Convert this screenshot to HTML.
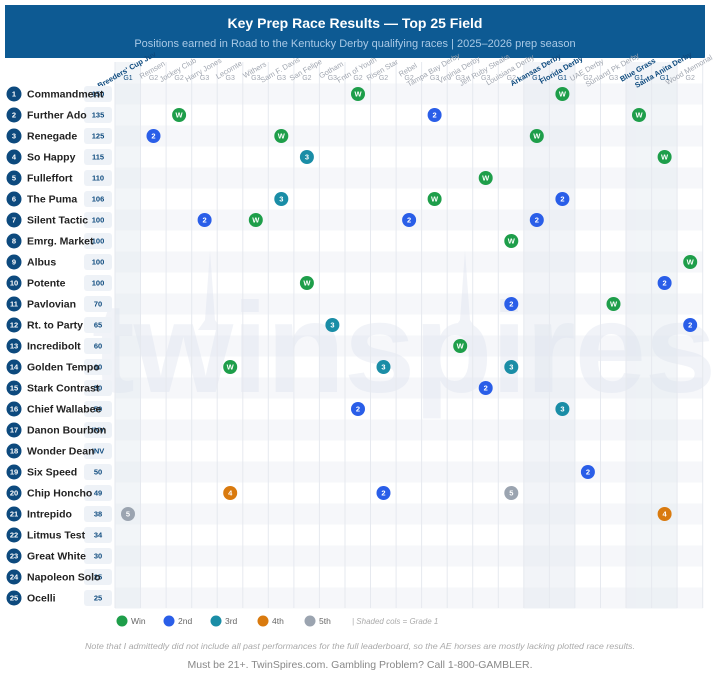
<!DOCTYPE html>
<html><head><meta charset="utf-8"><style>
body{margin:0;background:#fff;width:720px;height:677px;overflow:hidden;font-family:"Liberation Sans",sans-serif}
svg text{font-family:"Liberation Sans",sans-serif}
</style></head><body>
<svg width="720" height="677" viewBox="0 0 720 677" xmlns="http://www.w3.org/2000/svg">
<rect x="5" y="5" width="700" height="53" fill="#0d5a93"/>
<text x="355" y="28" text-anchor="middle" font-size="14" font-weight="bold" fill="#fff">Key Prep Race Results — Top 25 Field</text>
<text x="355" y="47" text-anchor="middle" font-size="11" fill="#a9c9e6">Positions earned in Road to the Kentucky Derby qualifying races | 2025–2026 prep season</text>
<!-- row stripes -->
<g fill="#f6f7fa">
<rect x="115" y="83.5" width="588" height="21"/><rect x="115" y="125.5" width="588" height="21"/><rect x="115" y="167.5" width="588" height="21"/><rect x="115" y="209.5" width="588" height="21"/><rect x="115" y="251.5" width="588" height="21"/><rect x="115" y="293.5" width="588" height="21"/><rect x="115" y="335.5" width="588" height="21"/><rect x="115" y="377.5" width="588" height="21"/><rect x="115" y="419.5" width="588" height="21"/><rect x="115" y="461.5" width="588" height="21"/><rect x="115" y="503.5" width="588" height="21"/><rect x="115" y="545.5" width="588" height="21"/><rect x="115" y="587.5" width="588" height="21"/>
</g>
<g fill="#e3e8f0" opacity="0.45">
<rect x="115" y="62" width="25.5" height="546.5"/><rect x="524" y="62" width="51" height="546.5"/><rect x="626.2" y="62" width="51" height="546.5"/>
</g>
<!-- watermark -->
<g fill="#dde3ee" opacity="0.4">
<text x="92" y="392" font-size="128" font-weight="bold" letter-spacing="-1">twinspires</text>
<polygon points="205,320 210,250 215,320 222,330 198,330"/>
<polygon points="460,320 465,250 470,320 477,330 453,330"/>
</g>
<!-- gridlines -->
<g stroke="#e6e9ef" stroke-width="1">
<line x1="115" y1="62" x2="115" y2="608"/><line x1="140.5" y1="62" x2="140.5" y2="608"/><line x1="166.1" y1="62" x2="166.1" y2="608"/><line x1="191.7" y1="62" x2="191.7" y2="608"/><line x1="217.2" y1="62" x2="217.2" y2="608"/><line x1="242.8" y1="62" x2="242.8" y2="608"/><line x1="268.3" y1="62" x2="268.3" y2="608"/><line x1="293.9" y1="62" x2="293.9" y2="608"/><line x1="319.4" y1="62" x2="319.4" y2="608"/><line x1="345" y1="62" x2="345" y2="608"/><line x1="370.5" y1="62" x2="370.5" y2="608"/><line x1="396.1" y1="62" x2="396.1" y2="608"/><line x1="421.6" y1="62" x2="421.6" y2="608"/><line x1="447.2" y1="62" x2="447.2" y2="608"/><line x1="472.7" y1="62" x2="472.7" y2="608"/><line x1="498.3" y1="62" x2="498.3" y2="608"/><line x1="523.8" y1="62" x2="523.8" y2="608"/><line x1="549.4" y1="62" x2="549.4" y2="608"/><line x1="574.9" y1="62" x2="574.9" y2="608"/><line x1="600.5" y1="62" x2="600.5" y2="608"/><line x1="626" y1="62" x2="626" y2="608"/><line x1="651.6" y1="62" x2="651.6" y2="608"/><line x1="677.1" y1="62" x2="677.1" y2="608"/><line x1="702.7" y1="62" x2="702.7" y2="608"/>
</g>
<!-- column labels -->
<g font-size="7.5" fill="#a0a6b0" text-anchor="middle">
<text transform="translate(128,72) rotate(-30)" fill="#0d4a7e" font-weight="bold">Breeders' Cup Juv</text>
<text transform="translate(153.5,72) rotate(-30)">Remsen</text>
<text transform="translate(179.1,72) rotate(-30)">Jockey Club</text>
<text transform="translate(204.6,72) rotate(-30)">Harry Jones</text>
<text transform="translate(230.2,72) rotate(-30)">Lecomte</text>
<text transform="translate(255.8,72) rotate(-30)">Withers</text>
<text transform="translate(281.3,72) rotate(-30)">Sam F. Davis</text>
<text transform="translate(306.9,72) rotate(-30)">San Felipe</text>
<text transform="translate(332.4,72) rotate(-30)">Gotham</text>
<text transform="translate(358,72) rotate(-30)">Fntn of Youth</text>
<text transform="translate(383.5,72) rotate(-30)">Risen Star</text>
<text transform="translate(409.1,72) rotate(-30)">Rebel</text>
<text transform="translate(434.6,72) rotate(-30)">Tampa Bay Derby</text>
<text transform="translate(460.2,72) rotate(-30)">Virginia Derby</text>
<text transform="translate(485.7,72) rotate(-30)">Jeff Ruby Steaks</text>
<text transform="translate(511.3,72) rotate(-30)">Louisiana Derby</text>
<text transform="translate(536.8,72) rotate(-30)" fill="#0d4a7e" font-weight="bold">Arkansas Derby</text>
<text transform="translate(562.4,72) rotate(-30)" fill="#0d4a7e" font-weight="bold">Florida Derby</text>
<text transform="translate(587.9,72) rotate(-30)">UAE Derby</text>
<text transform="translate(613.5,72) rotate(-30)">Sunland Pk Derby</text>
<text transform="translate(639,72) rotate(-30)" fill="#0d4a7e" font-weight="bold">Blue Grass</text>
<text transform="translate(664.6,72) rotate(-30)" fill="#0d4a7e" font-weight="bold">Santa Anita Derby</text>
<text transform="translate(690.2,72) rotate(-30)">Wood Memorial</text>
</g>
<g font-size="7" fill="#a0a6b0" text-anchor="middle">
<text x="128" y="80" fill="#0d4a7e">G1</text><text x="153.5" y="80">G2</text><text x="179.1" y="80">G2</text><text x="204.6" y="80">G3</text><text x="230.2" y="80">G3</text><text x="255.8" y="80">G3</text><text x="281.3" y="80">G3</text><text x="306.9" y="80">G2</text><text x="332.4" y="80">G3</text><text x="358" y="80">G2</text><text x="383.5" y="80">G2</text><text x="409.1" y="80">G2</text><text x="434.6" y="80">G3</text><text x="460.2" y="80">G3</text><text x="485.7" y="80">G3</text><text x="511.3" y="80">G2</text><text x="536.8" y="80" fill="#0d4a7e">G1</text><text x="562.4" y="80" fill="#0d4a7e">G1</text><text x="587.9" y="80">G2</text><text x="613.5" y="80">G3</text><text x="639" y="80" fill="#0d4a7e">G1</text><text x="664.6" y="80" fill="#0d4a7e">G1</text><text x="690.2" y="80">G2</text>
</g>
<!-- left labels -->
<g>
<g fill="#0d4a7e"><circle cx="14" cy="94" r="7.5"/><circle cx="14" cy="115" r="7.5"/><circle cx="14" cy="136" r="7.5"/><circle cx="14" cy="157" r="7.5"/><circle cx="14" cy="178" r="7.5"/><circle cx="14" cy="199" r="7.5"/><circle cx="14" cy="220" r="7.5"/><circle cx="14" cy="241" r="7.5"/><circle cx="14" cy="262" r="7.5"/><circle cx="14" cy="283" r="7.5"/><circle cx="14" cy="304" r="7.5"/><circle cx="14" cy="325" r="7.5"/><circle cx="14" cy="346" r="7.5"/><circle cx="14" cy="367" r="7.5"/><circle cx="14" cy="388" r="7.5"/><circle cx="14" cy="409" r="7.5"/><circle cx="14" cy="430" r="7.5"/><circle cx="14" cy="451" r="7.5"/><circle cx="14" cy="472" r="7.5"/><circle cx="14" cy="493" r="7.5"/><circle cx="14" cy="514" r="7.5"/><circle cx="14" cy="535" r="7.5"/><circle cx="14" cy="556" r="7.5"/><circle cx="14" cy="577" r="7.5"/><circle cx="14" cy="598" r="7.5"/></g>
<g fill="#eef2f7"><rect x="84" y="86" width="28" height="16" rx="3"/><rect x="84" y="107" width="28" height="16" rx="3"/><rect x="84" y="128" width="28" height="16" rx="3"/><rect x="84" y="149" width="28" height="16" rx="3"/><rect x="84" y="170" width="28" height="16" rx="3"/><rect x="84" y="191" width="28" height="16" rx="3"/><rect x="84" y="212" width="28" height="16" rx="3"/><rect x="84" y="233" width="28" height="16" rx="3"/><rect x="84" y="254" width="28" height="16" rx="3"/><rect x="84" y="275" width="28" height="16" rx="3"/><rect x="84" y="296" width="28" height="16" rx="3"/><rect x="84" y="317" width="28" height="16" rx="3"/><rect x="84" y="338" width="28" height="16" rx="3"/><rect x="84" y="359" width="28" height="16" rx="3"/><rect x="84" y="380" width="28" height="16" rx="3"/><rect x="84" y="401" width="28" height="16" rx="3"/><rect x="84" y="422" width="28" height="16" rx="3"/><rect x="84" y="443" width="28" height="16" rx="3"/><rect x="84" y="464" width="28" height="16" rx="3"/><rect x="84" y="485" width="28" height="16" rx="3"/><rect x="84" y="506" width="28" height="16" rx="3"/><rect x="84" y="527" width="28" height="16" rx="3"/><rect x="84" y="548" width="28" height="16" rx="3"/><rect x="84" y="569" width="28" height="16" rx="3"/><rect x="84" y="590" width="28" height="16" rx="3"/></g>
<g fill="#fff" font-size="7.5" font-weight="bold" text-anchor="middle">
<text x="14" y="96.7">1</text><text x="14" y="117.7">2</text><text x="14" y="138.7">3</text><text x="14" y="159.7">4</text><text x="14" y="180.7">5</text><text x="14" y="201.7">6</text><text x="14" y="222.7">7</text><text x="14" y="243.7">8</text><text x="14" y="264.7">9</text><text x="14" y="285.7">10</text><text x="14" y="306.7">11</text><text x="14" y="327.7">12</text><text x="14" y="348.7">13</text><text x="14" y="369.7">14</text><text x="14" y="390.7">15</text><text x="14" y="411.7">16</text><text x="14" y="432.7">17</text><text x="14" y="453.7">18</text><text x="14" y="474.7">19</text><text x="14" y="495.7">20</text><text x="14" y="516.7">21</text><text x="14" y="537.7">22</text><text x="14" y="558.7">23</text><text x="14" y="579.7">24</text><text x="14" y="600.7">25</text>
</g>
<g fill="#0d4a7e" font-size="7.5" font-weight="bold" text-anchor="middle">
<text x="98" y="96.7">150</text><text x="98" y="117.7">135</text><text x="98" y="138.7">125</text><text x="98" y="159.7">115</text><text x="98" y="180.7">110</text><text x="98" y="201.7">106</text><text x="98" y="222.7">100</text><text x="98" y="243.7">100</text><text x="98" y="264.7">100</text><text x="98" y="285.7">100</text><text x="98" y="306.7">70</text><text x="98" y="327.7">65</text><text x="98" y="348.7">60</text><text x="98" y="369.7">60</text><text x="98" y="390.7">50</text><text x="98" y="411.7">50</text><text x="98" y="432.7">INV</text><text x="98" y="453.7">INV</text><text x="98" y="474.7">50</text><text x="98" y="495.7">49</text><text x="98" y="516.7">38</text><text x="98" y="537.7">34</text><text x="98" y="558.7">30</text><text x="98" y="579.7">25</text><text x="98" y="600.7">25</text>
</g>
<g fill="#222" font-size="10.5" font-weight="bold">
<text x="27" y="97.5">Commandment</text><text x="27" y="118.5">Further Ado</text><text x="27" y="139.5">Renegade</text><text x="27" y="160.5">So Happy</text><text x="27" y="181.5">Fulleffort</text><text x="27" y="202.5">The Puma</text><text x="27" y="223.5">Silent Tactic</text><text x="27" y="244.5">Emrg. Market</text><text x="27" y="265.5">Albus</text><text x="27" y="286.5">Potente</text><text x="27" y="307.5">Pavlovian</text><text x="27" y="328.5">Rt. to Party</text><text x="27" y="349.5">Incredibolt</text><text x="27" y="370.5">Golden Tempo</text><text x="27" y="391.5">Stark Contrast</text><text x="27" y="412.5">Chief Wallabee</text><text x="27" y="433.5">Danon Bourbon</text><text x="27" y="454.5">Wonder Dean</text><text x="27" y="475.5">Six Speed</text><text x="27" y="496.5">Chip Honcho</text><text x="27" y="517.5">Intrepido</text><text x="27" y="538.5">Litmus Test</text><text x="27" y="559.5">Great White</text><text x="27" y="580.5">Napoleon Solo</text><text x="27" y="601.5">Ocelli</text>
</g>
</g>
<!-- dots -->
<g>
<g fill="#1e9e4a">
<circle cx="358" cy="94" r="7"/><circle cx="562.4" cy="94" r="7"/>
<circle cx="179.1" cy="115" r="7"/><circle cx="639" cy="115" r="7"/>
<circle cx="281.3" cy="136" r="7"/><circle cx="536.8" cy="136" r="7"/>
<circle cx="664.6" cy="157" r="7"/>
<circle cx="485.7" cy="178" r="7"/>
<circle cx="434.6" cy="199" r="7"/>
<circle cx="255.8" cy="220" r="7"/>
<circle cx="511.3" cy="241" r="7"/>
<circle cx="690.2" cy="262" r="7"/>
<circle cx="306.9" cy="283" r="7"/>
<circle cx="613.5" cy="304" r="7"/>
<circle cx="460.2" cy="346" r="7"/>
<circle cx="230.2" cy="367" r="7"/>
</g>
<g fill="#2a5ee8">
<circle cx="434.6" cy="115" r="7"/><circle cx="153.5" cy="136" r="7"/><circle cx="562.4" cy="199" r="7"/>
<circle cx="204.6" cy="220" r="7"/><circle cx="409.1" cy="220" r="7"/><circle cx="536.8" cy="220" r="7"/>
<circle cx="664.6" cy="283" r="7"/><circle cx="511.3" cy="304" r="7"/><circle cx="690.2" cy="325" r="7"/>
<circle cx="485.7" cy="388" r="7"/><circle cx="358" cy="409" r="7"/><circle cx="587.9" cy="472" r="7"/><circle cx="383.5" cy="493" r="7"/>
</g>
<g fill="#1a8da6">
<circle cx="306.9" cy="157" r="7"/><circle cx="281.3" cy="199" r="7"/><circle cx="332.4" cy="325" r="7"/>
<circle cx="383.5" cy="367" r="7"/><circle cx="511.3" cy="367" r="7"/><circle cx="562.4" cy="409" r="7"/>
</g>
<g fill="#d97a0e"><circle cx="230.2" cy="493" r="7"/><circle cx="664.6" cy="514" r="7"/></g>
<g fill="#9ba4b0"><circle cx="511.3" cy="493" r="7"/><circle cx="128" cy="514" r="7"/></g>
<g fill="#fff" font-size="7.5" font-weight="bold" text-anchor="middle">
<text x="358" y="96.7">W</text><text x="562.4" y="96.7">W</text>
<text x="179.1" y="117.7">W</text><text x="434.6" y="117.7">2</text><text x="639" y="117.7">W</text>
<text x="153.5" y="138.7">2</text><text x="281.3" y="138.7">W</text><text x="536.8" y="138.7">W</text>
<text x="306.9" y="159.7">3</text><text x="664.6" y="159.7">W</text>
<text x="485.7" y="180.7">W</text>
<text x="281.3" y="201.7">3</text><text x="434.6" y="201.7">W</text><text x="562.4" y="201.7">2</text>
<text x="204.6" y="222.7">2</text><text x="255.8" y="222.7">W</text><text x="409.1" y="222.7">2</text><text x="536.8" y="222.7">2</text>
<text x="511.3" y="243.7">W</text>
<text x="690.2" y="264.7">W</text>
<text x="306.9" y="285.7">W</text><text x="664.6" y="285.7">2</text>
<text x="511.3" y="306.7">2</text><text x="613.5" y="306.7">W</text>
<text x="332.4" y="327.7">3</text><text x="690.2" y="327.7">2</text>
<text x="460.2" y="348.7">W</text>
<text x="230.2" y="369.7">W</text><text x="383.5" y="369.7">3</text><text x="511.3" y="369.7">3</text>
<text x="485.7" y="390.7">2</text>
<text x="358" y="411.7">2</text><text x="562.4" y="411.7">3</text>
<text x="587.9" y="474.7">2</text>
<text x="230.2" y="495.7">4</text><text x="383.5" y="495.7">2</text><text x="511.3" y="495.7">5</text>
<text x="128" y="516.7">5</text><text x="664.6" y="516.7">4</text>
</g>
</g>
<!-- legend -->
<g font-size="8.5" fill="#666">
<circle cx="122" cy="621" r="5.5" fill="#1e9e4a"/><text x="131" y="624">Win</text>
<circle cx="169" cy="621" r="5.5" fill="#2a5ee8"/><text x="178" y="624">2nd</text>
<circle cx="216" cy="621" r="5.5" fill="#1a8da6"/><text x="225" y="624">3rd</text>
<circle cx="263" cy="621" r="5.5" fill="#d97a0e"/><text x="272" y="624">4th</text>
<circle cx="310" cy="621" r="5.5" fill="#9ba4b0"/><text x="319" y="624">5th</text>
<text x="352" y="624" font-size="8" font-style="italic" fill="#aaa">| Shaded cols = Grade 1</text>
</g>
<text x="360" y="649" text-anchor="middle" font-size="8.5" font-style="italic" fill="#aaa" textLength="550" lengthAdjust="spacingAndGlyphs">Note that I admittedly did not include all past performances for the full leaderboard, so the AE horses are mostly lacking plotted race results.</text>
<text x="360" y="668" text-anchor="middle" font-size="10.5" fill="#888">Must be 21+. TwinSpires.com. Gambling Problem? Call 1-800-GAMBLER.</text>
</svg>
</body></html>
